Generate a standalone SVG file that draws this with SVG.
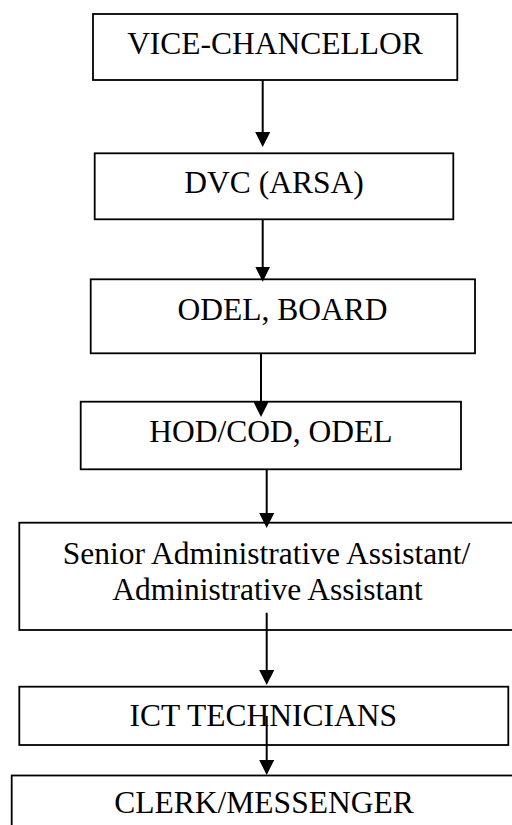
<svg xmlns="http://www.w3.org/2000/svg" width="512" height="825" viewBox="0 0 512 825">
<style>
.box{fill:#fff;stroke:#000;stroke-width:1.8}
.lbl{font-family:"Liberation Serif","Times New Roman",Times,Tinos,"Nimbus Roman","DejaVu Serif",serif;font-size:31.5px;fill:#000;text-anchor:middle}
.conn{stroke:#000;stroke-width:2;fill:none}
</style>
<defs>
<marker id="arr" markerUnits="userSpaceOnUse" viewBox="0 0 15 15" refX="8" refY="7.5" markerWidth="15" markerHeight="15" orient="auto">
<path d="M0,0 L15,7.5 L0,15 z" fill="#000"/>
</marker>
</defs>
<rect width="512" height="825" fill="#fff"/>
<g id="n1"><rect class="box" x="93" y="14" width="364.3" height="66"/><text class="lbl" x="275" y="54" font-family="Liberation Serif, serif">VICE-CHANCELLOR</text></g>
<g id="n2"><rect class="box" x="94.7" y="153.3" width="358.6" height="66"/><text class="lbl" x="274" y="193">DVC (ARSA)</text></g>
<g id="n3"><rect class="box" x="90.7" y="279.3" width="384.3" height="74"/><text class="lbl" x="282.5" y="320">ODEL, BOARD</text></g>
<g id="n4"><rect class="box" x="80.7" y="401.7" width="380.3" height="67.6"/><text class="lbl" x="270.8" y="441.7">HOD/COD, ODEL</text></g>
<g id="n5"><rect class="box" x="19.3" y="522.7" width="494.5" height="107.3"/><text class="lbl" x="266.5" y="564">Senior Administrative Assistant/</text><text class="lbl" x="267.5" y="600">Administrative Assistant</text></g>
<g id="n6"><rect class="box" x="19.3" y="686.7" width="489" height="58.3"/><text class="lbl" x="263.3" y="726">ICT TECHNICIANS</text></g>
<g id="n7"><rect class="box" x="11.7" y="775.5" width="505" height="60"/><text class="lbl" x="264" y="813">CLERK/MESSENGER</text></g>
<g id="connectors">
<line class="conn" x1="262.7" y1="80" x2="262.7" y2="140" marker-end="url(#arr)"/>
<line class="conn" x1="262.7" y1="219.3" x2="262.7" y2="274.7" marker-end="url(#arr)"/>
<line class="conn" x1="261" y1="353" x2="261" y2="410" marker-end="url(#arr)"/>
<line class="conn" x1="266.7" y1="469" x2="266.7" y2="521" marker-end="url(#arr)"/>
<line class="conn" x1="266.7" y1="612.7" x2="266.7" y2="678" marker-end="url(#arr)"/>
<line class="conn" x1="266.7" y1="716" x2="266.7" y2="768" marker-end="url(#arr)"/>
</g>
</svg>
